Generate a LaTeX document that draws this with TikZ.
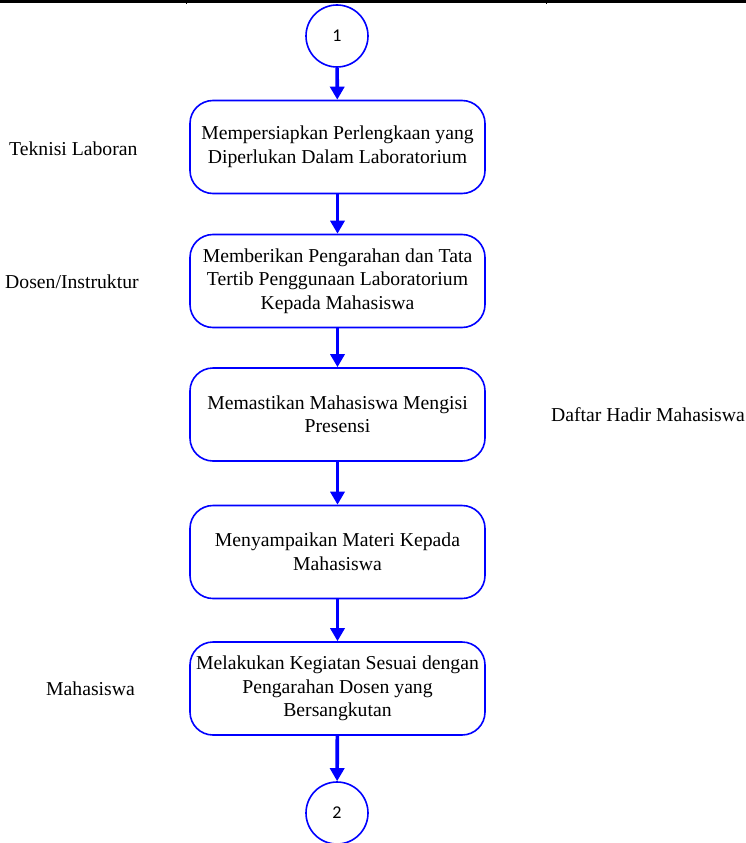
\documentclass[tikz,border=0pt]{standalone}
\usepackage{fontspec}
\setmainfont{Liberation Serif}
\newfontfamily\numfont{Carlito}
\usepackage{tikz}
\usetikzlibrary{arrows.meta}

\tikzset{
	prosesbox/.style = {draw = blue, line width = 1.6pt, rounded corners = 23pt, minimum width = 295pt, minimum height = 93pt, align = center, inner sep = 2pt},
	konektor/.style = {draw = blue, line width = 1.6pt, circle, minimum size = 62pt, inner sep = 0pt, font = \numfont\fontsize{18}{20}\selectfont},
	alur/.style = {draw = blue, line width = 3.6pt, -{Triangle[length = 13pt, width = 14pt]}},
	peran/.style = {anchor = west, inner sep = 0pt}
}

\begin{document}
\begin{tikzpicture}[x = 1pt, y = -1pt, font = \fontsize{19.7}{23.5}\selectfont]
			\useasboundingbox (0,0) rectangle (746,843);
			\draw[line width = 3pt] (0,1.5) -- (746,1.5);
			\draw[line width = 1pt] (186,0) -- (186,4.5);
			\draw[line width = 1pt] (546,0) -- (546,4.5);
			\node[konektor] (0) at (337,36) {1};
			\node[prosesbox] (1) at (337.5,147) {Mempersiapkan Perlengkaan yang\\Diperlukan Dalam Laboratorium};
			\node[prosesbox] (2) at (337.5,281) {Memberikan Pengarahan dan Tata\\Tertib Penggunaan Laboratorium\\Kepada Mahasiswa};
			\node[prosesbox] (3) at (337.5,414.5) {Memastikan Mahasiswa Mengisi\\Presensi};
			\node[prosesbox] (4) at (337.5,552) {Menyampaikan Materi Kepada\\Mahasiswa};
			\node[prosesbox] (5) at (337.5,688.5) {Melakukan Kegiatan Sesuai dengan\\Pengarahan Dosen yang\\Bersangkutan};
			\node[konektor] (6) at (337,813) {2};
			\node[peran] (p1) at (9,149) {Teknisi Laboran};
			\node[peran] (p2) at (5,282) {Dosen/Instruktur};
			\node[peran] (p3) at (551,415) {Daftar Hadir Mahasiswa};
			\node[peran] (p4) at (46,689) {Mahasiswa};
			\draw[alur] (0) -- (1);
			\draw[alur] (1) -- (2);
			\draw[alur] (2) -- (3);
			\draw[alur] (3) -- (4);
			\draw[alur] (4) -- (5);
			\draw[alur] (5) -- (6);
		\end{tikzpicture}
\end{document}
